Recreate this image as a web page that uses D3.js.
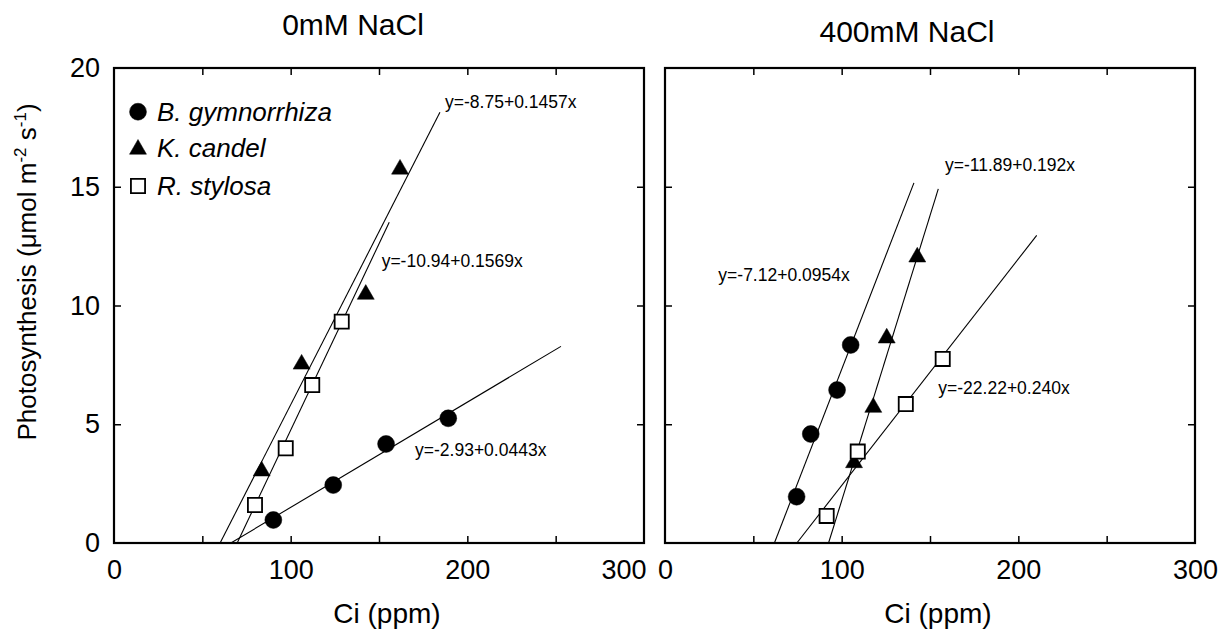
<!DOCTYPE html>
<html>
<head>
<meta charset="utf-8">
<script src="https://cdn.jsdelivr.net/npm/d3@7/dist/d3.min.js"></script>
<style>
  html, body { margin: 0; padding: 0; background: #fff; }
  svg { display: block; font-family: "Liberation Sans", Arial, Helvetica, sans-serif; }
</style>
</head>
<body>
<svg id="chart" width="1220" height="632"></svg>
<script>
// ---------------- data ----------------
const panelTitles = ["0mM NaCl", "400mM NaCl"];
const species = ["B. gymnorrhiza", "K. candel", "R. stylosa"];
const xTicks = [0, 50, 100, 150, 200, 250, 300];
const xTickLabels = [0, 100, 200, 300];
const yTicks = [0, 5, 10, 15, 20];
const yTickLabels = [0, 5, 10, 15, 20];

// 0 mM NaCl
const ci0_B = [90.2, 124.1, 154.0, 189.2];
const ph0_B = [0.97, 2.44, 4.17, 5.25];
const ci0_K = [83.6, 106.2, 142.5, 161.9];
const ph0_K = [3.07, 7.57, 10.51, 15.78];
const ci0_R = [79.8, 97.2, 112.2, 128.9];
const ph0_R = [1.6, 3.99, 6.65, 9.32];
const fit0_intercept = [-2.93, -8.75, -10.94];
const fit0_slope = [0.0443, 0.1457, 0.1569];
const fit0_xEnd = [253, 184.5, 155.8];
const eq0_text = ["y=-2.93+0.0443x", "y=-8.75+0.1457x", "y=-10.94+0.1569x"];
const eq0_at = [[170.4, 3.66], [187.4, 18.3], [151.5, 11.62]];

// 400 mM NaCl
const ci4_B = [74.5, 82.5, 97.4, 105.1];
const ph4_B = [1.95, 4.59, 6.44, 8.34];
const ci4_K = [107.0, 117.9, 125.5, 142.8];
const ph4_K = [3.42, 5.75, 8.67, 12.08];
const ci4_R = [91.5, 109.1, 136.3, 157.2];
const ph4_R = [1.14, 3.85, 5.85, 7.75];
const fit4_intercept = [-11.89, -22.22, -7.12];
const fit4_slope = [0.192, 0.240, 0.0954];
const fit4_xEnd = [140.9, 154.7, 210.4];
const eq4_text = ["y=-11.89+0.192x", "y=-7.12+0.0954x", "y=-22.22+0.240x"];
const eq4_at = [[158.5, 15.66], [30.2, 11.03], [154.7, 6.27]];

// ---------------- layout ----------------
const svg = d3.select("#chart");
const y = d3.scaleLinear().domain([0, 20]).range([543, 68]);
const panelsX = [
  d3.scaleLinear().domain([0, 300]).range([114, 644]),
  d3.scaleLinear().domain([0, 300]).range([665, 1195])
];
const panelData = [
  { pts: [[ci0_B, ph0_B], [ci0_K, ph0_K], [ci0_R, ph0_R]],
    b: fit0_intercept, m: fit0_slope, xe: fit0_xEnd, eq: eq0_text, eqAt: eq0_at },
  { pts: [[ci4_B, ph4_B], [ci4_K, ph4_K], [ci4_R, ph4_R]],
    b: fit4_intercept, m: fit4_slope, xe: fit4_xEnd, eq: eq4_text, eqAt: eq4_at }
];
const titlePos = [[353, 35], [907, 42]];
const markerTypes = [d3.symbolCircle, d3.symbolTriangle, d3.symbolSquare];
const markerSizes = [225, 125, 200];

function drawMarker(g, type, cx, cy) {
  const isSquare = type === 2;
  g.append("path")
    .attr("d", d3.symbol().type(markerTypes[type]).size(markerSizes[type])())
    .attr("transform", `translate(${cx},${cy + (type === 1 ? 1 : 0)})`)
    .attr("fill", isSquare ? "#fff" : "#000")
    .attr("stroke", "#000")
    .attr("stroke-width", isSquare ? 1.8 : 0.5);
}

panelData.forEach((pd, pi) => {
  const x = panelsX[pi];
  const g = svg.append("g");

  // fitted lines
  pd.b.forEach((b, si) => {
    const m = pd.m[si];
    const x0 = -b / m;
    const x1 = pd.xe[si];
    g.append("line")
      .attr("x1", x(x0)).attr("y1", y(0))
      .attr("x2", x(x1)).attr("y2", y(b + m * x1))
      .attr("stroke", "#000").attr("stroke-width", 1.1);
  });

  // equation labels
  pd.eq.forEach((t, i) => {
    g.append("text")
      .attr("x", x(pd.eqAt[i][0])).attr("y", y(pd.eqAt[i][1]))
      .attr("font-size", 17.5)
      .text(t);
  });

  // points
  pd.pts.forEach(([xs, ys], si) => {
    xs.forEach((xv, k) => drawMarker(g, si, x(xv), y(ys[k])));
  });

  // axes (ticks inward)
  const bottom = d3.axisBottom(x).tickValues(xTicks).tickSizeInner(-7).tickSizeOuter(0)
    .tickPadding(17).tickFormat(d => xTickLabels.includes(d) ? d : "");
  const top = d3.axisTop(x).tickValues(xTicks).tickSizeInner(-7).tickSizeOuter(0).tickFormat("");
  const left = d3.axisLeft(y).tickValues(yTicks).tickSizeInner(-7).tickSizeOuter(0)
    .tickPadding(14).tickFormat(d => (pi === 0 && yTickLabels.includes(d)) ? d : "");
  const right = d3.axisRight(y).tickValues(yTicks).tickSizeInner(-7).tickSizeOuter(0).tickFormat("");

  const ax = [
    g.append("g").attr("transform", `translate(0,${y(0)})`).call(bottom),
    g.append("g").attr("transform", `translate(0,${y(20)})`).call(top),
    g.append("g").attr("transform", `translate(${x(0)},0)`).call(left),
    g.append("g").attr("transform", `translate(${x(300)},0)`).call(right)
  ];
  ax.forEach(a => {
    a.select(".domain").remove();
    a.selectAll(".tick line").attr("stroke", "#000").attr("stroke-width", 1.5)
      .filter(d => d === 0 || d === 300 || d === 20).remove();
    a.selectAll("text").attr("font-size", 27).attr("fill", "#000")
      .attr("font-family", '"Liberation Sans", Arial, sans-serif');
  });
  if (pi === 0) {
    ax[0].selectAll(".tick text").filter(d => d === 300)
      .attr("text-anchor", "end").attr("x", 2);
  }

  // frame
  g.append("rect")
    .attr("x", x(0)).attr("y", y(20))
    .attr("width", x(300) - x(0)).attr("height", y(0) - y(20))
    .attr("fill", "none").attr("stroke", "#000").attr("stroke-width", 2.2);

  // titles
  svg.append("text")
    .attr("x", titlePos[pi][0]).attr("y", titlePos[pi][1])
    .attr("text-anchor", "middle").attr("font-size", 30)
    .text(panelTitles[pi]);

  // x-axis title
  svg.append("text")
    .attr("x", (x(0) + x(300)) / 2 + 8).attr("y", 623)
    .attr("text-anchor", "middle").attr("font-size", 28)
    .text("Ci (ppm)");
});

// legend (left panel)
const legendRows = [111.7, 148.3, 186];
species.forEach((s, i) => {
  drawMarker(svg, i, 138, legendRows[i]);
  svg.append("text")
    .attr("x", 157).attr("y", legendRows[i] + 9)
    .attr("font-size", 26).attr("font-style", "italic")
    .text(s);
});

// y-axis title
const yl = svg.append("text")
  .attr("transform", "translate(36,272) rotate(-90)")
  .attr("text-anchor", "middle").attr("font-size", 26);
yl.append("tspan").text("Photosynthesis (\u03BCmol m");
yl.append("tspan").attr("font-size", 17).attr("dy", -10).text("-2");
yl.append("tspan").attr("dy", 10).text(" s");
yl.append("tspan").attr("font-size", 17).attr("dy", -10).text("-1");
yl.append("tspan").attr("dy", 10).text(")");
</script>
</body>
</html>
